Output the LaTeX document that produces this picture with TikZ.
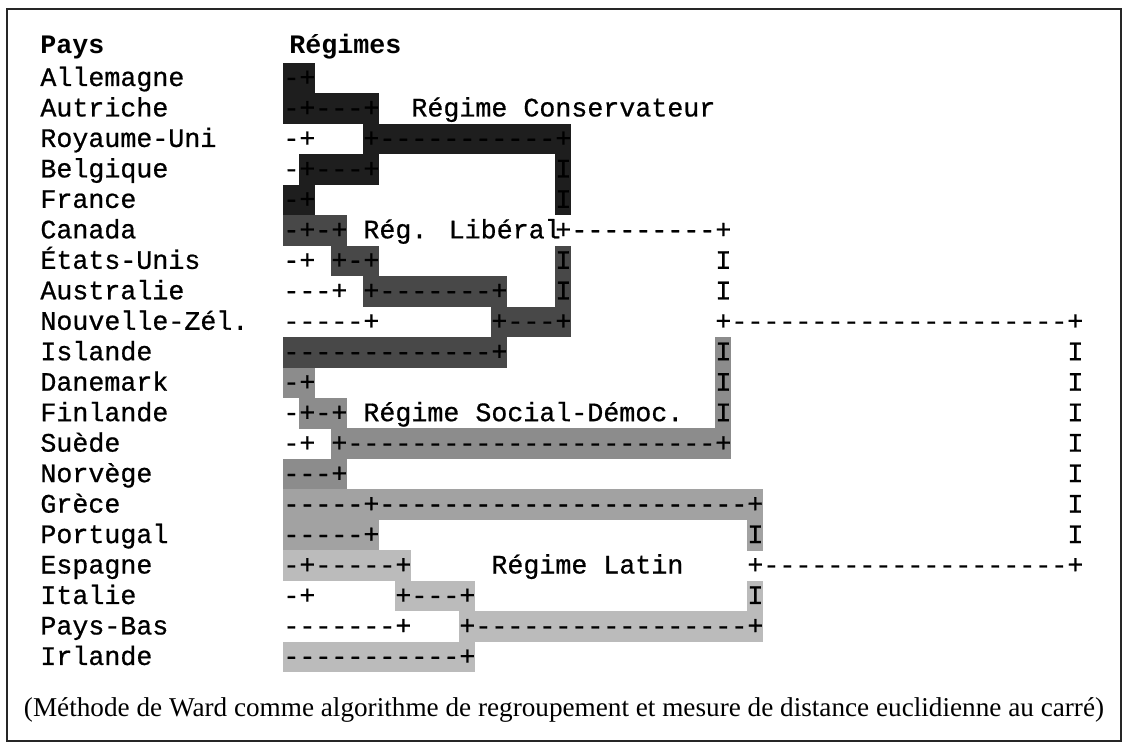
\documentclass[tikz,border=0pt]{standalone}
\usepackage{fontspec}
\setmainfont{Liberation Serif}
\newfontfamily\cour[Ligatures=TeXOff,FakeBold=0.7]{Liberation Mono}
\newfontfamily\courbf[Ligatures=TeXOff]{Liberation Mono Bold}
\definecolor{cons}{HTML}{1E1E1E}
\definecolor{lib}{HTML}{484848}
\definecolor{soc}{HTML}{8C8C8C}
\definecolor{latA}{HTML}{A2A2A2}
\definecolor{latB}{HTML}{BBBBBB}
% shaded band over dendrogram columns #2..#3 of row #4
\newcommand\band[4]{\fill[#1] ({283+16*(#2)-0.2},{62.8+30.47*(#4)}) rectangle ({283+16*(#3)+16.2},{93.5+30.47*(#4)});}
% dendrogram characters starting at column #2 of row #3
\newcommand\dtext[4]{\node[tree] (#1) at ({283+16*(#2)},{86+30.47*(#3)}) {#4};}
% country name of row #2
\newcommand\clabel[3]{\node[tree] (#1) at (40,{86+30.47*(#2)}) {#3};}
\begin{document}
\begin{tikzpicture}[x=0.5pt,y=-0.5pt,
  tree/.style={font=\cour\fontsize{13.33}{15}\selectfont, inner sep=0pt, anchor=base west},
  head/.style={font=\courbf\fontsize{13.33}{15}\selectfont, inner sep=0pt, anchor=base west},
  caption/.style={font=\fontsize{13.6}{16}\selectfont, inner sep=0pt, anchor=base}]
\useasboundingbox (0,0) rectangle (1128,749);
\draw[line width=0.6pt, black!85] (7,9) rectangle (1121,741);

% ---- cluster shading ----
% conservative regime
\band{cons}{0}{1}{0}
\band{cons}{0}{5}{1}
\band{cons}{5}{17}{2}
\band{cons}{1}{5}{3}
\band{cons}{17}{17}{3}
\band{cons}{0}{1}{4}
\band{cons}{17}{17}{4}
% liberal regime
\band{lib}{0}{3}{5}
\band{lib}{3}{5}{6}
\band{lib}{17}{17}{6}
\band{lib}{5}{13}{7}
\band{lib}{17}{17}{7}
\band{lib}{13}{17}{8}
\band{lib}{0}{13}{9}
% social-democratic regime
\band{soc}{27}{27}{9}
\band{soc}{0}{1}{10}
\band{soc}{27}{27}{10}
\band{soc}{1}{3}{11}
\band{soc}{27}{27}{11}
\band{soc}{3}{27}{12}
\band{soc}{0}{3}{13}
% latin regime
\band{latA}{0}{29}{14}
\band{latA}{0}{5}{15}
\band{latA}{29}{29}{15}
\band{latB}{0}{7}{16}
\band{latB}{7}{11}{17}
\band{latB}{29}{29}{17}
\band{latB}{11}{29}{18}
\band{latB}{0}{11}{19}

% ---- headers ----
\node[head] (hPays) at (40,54) {Pays};
\node[head] (hReg) at (289,54) {Régimes};

% ---- country names ----
\clabel{c0}{0}{Allemagne}
\clabel{c1}{1}{Autriche}
\clabel{c2}{2}{Royaume-Uni}
\clabel{c3}{3}{Belgique}
\clabel{c4}{4}{France}
\clabel{c5}{5}{Canada}
\clabel{c6}{6}{États-Unis}
\clabel{c7}{7}{Australie}
\clabel{c8}{8}{Nouvelle-Zél.}
\clabel{c9}{9}{Islande}
\clabel{c10}{10}{Danemark}
\clabel{c11}{11}{Finlande}
\clabel{c12}{12}{Suède}
\clabel{c13}{13}{Norvège}
\clabel{c14}{14}{Grèce}
\clabel{c15}{15}{Portugal}
\clabel{c16}{16}{Espagne}
\clabel{c17}{17}{Italie}
\clabel{c18}{18}{Pays-Bas}
\clabel{c19}{19}{Irlande}

% ---- dendrogram ----
\dtext{t0a}{0}{0}{-+}
\dtext{t1a}{0}{1}{-+---+}
\dtext{t2a}{0}{2}{-+}
\dtext{t2b}{5}{2}{+-----------+}
\dtext{t3a}{0}{3}{-+---+}
\dtext{t3b}{17}{3}{I}
\dtext{t4a}{0}{4}{-+}
\dtext{t4b}{17}{4}{I}
\dtext{t5a}{0}{5}{-+-+}
\dtext{t5b}{17}{5}{+---------+}
\dtext{t6a}{0}{6}{-+}
\dtext{t6b}{3}{6}{+-+}
\dtext{t6c}{17}{6}{I}
\dtext{t6d}{27}{6}{I}
\dtext{t7a}{0}{7}{---+}
\dtext{t7b}{5}{7}{+-------+}
\dtext{t7c}{17}{7}{I}
\dtext{t7d}{27}{7}{I}
\dtext{t8a}{0}{8}{-----+}
\dtext{t8b}{13}{8}{+---+}
\dtext{t8c}{27}{8}{+---------------------+}
\dtext{t9a}{0}{9}{-------------+}
\dtext{t9b}{27}{9}{I}
\dtext{t9c}{49}{9}{I}
\dtext{t10a}{0}{10}{-+}
\dtext{t10b}{27}{10}{I}
\dtext{t10c}{49}{10}{I}
\dtext{t11a}{0}{11}{-+-+}
\dtext{t11b}{27}{11}{I}
\dtext{t11c}{49}{11}{I}
\dtext{t12a}{0}{12}{-+}
\dtext{t12b}{3}{12}{+-----------------------+}
\dtext{t12c}{49}{12}{I}
\dtext{t13a}{0}{13}{---+}
\dtext{t13b}{49}{13}{I}
\dtext{t14a}{0}{14}{-----+-----------------------+}
\dtext{t14b}{49}{14}{I}
\dtext{t15a}{0}{15}{-----+}
\dtext{t15b}{29}{15}{I}
\dtext{t15c}{49}{15}{I}
\dtext{t16a}{0}{16}{-+-----+}
\dtext{t16b}{29}{16}{+-------------------+}
\dtext{t17a}{0}{17}{-+}
\dtext{t17b}{7}{17}{+---+}
\dtext{t17c}{29}{17}{I}
\dtext{t18a}{0}{18}{-------+}
\dtext{t18b}{11}{18}{+-----------------+}
\dtext{t19a}{0}{19}{-----------+}

% ---- regime names ----
\dtext{rCons}{8}{1}{Régime Conservateur}
\dtext{rLib}{5}{5}{Rég. Libéral}
\dtext{rSoc}{5}{11}{Régime Social-Démoc.}
\dtext{rLat}{13}{16}{Régime Latin}

% ---- method note ----
\node[caption] (note) at (564,716) {(Méthode de Ward comme algorithme de regroupement et mesure de distance euclidienne au carré)};
\end{tikzpicture}
\end{document}
